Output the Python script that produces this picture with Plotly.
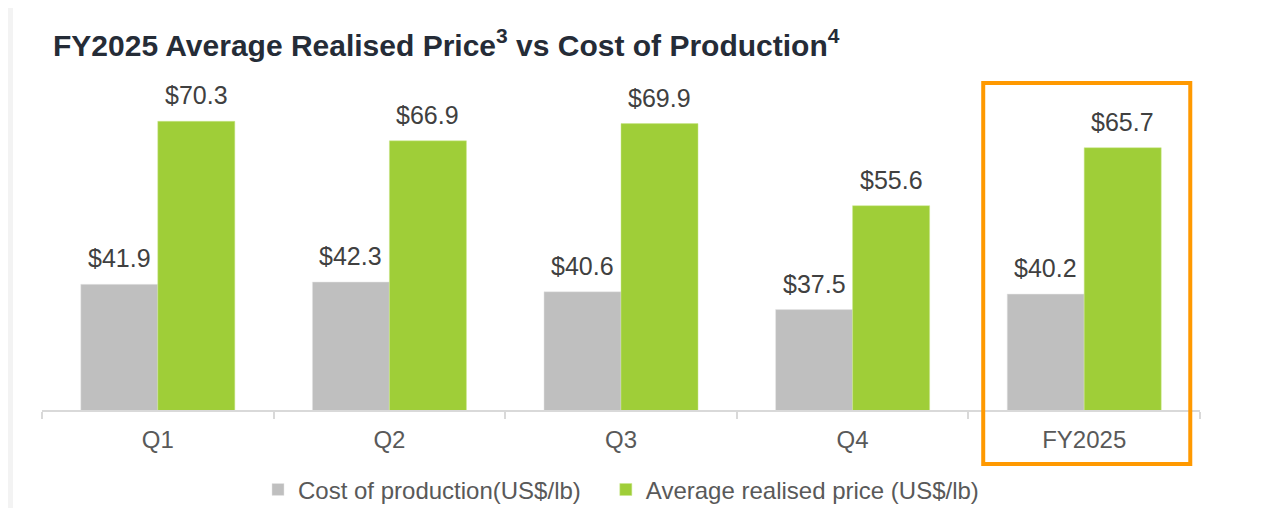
import plotly.graph_objects as go

categories = ["Q1", "Q2", "Q3", "Q4", "FY2025"]
cost_of_production = [41.9, 42.3, 40.6, 37.5, 40.2]
realised_price = [70.3, 66.9, 69.9, 55.6, 65.7]
series_names = ["Cost of production(US$/lb)", "Average realised price (US$/lb)"]

GREY = "#bfbfbf"
GREEN = "#9fce38"
LABEL_COLOR = "#404040"
AXIS_TEXT = "#595959"
FONT = "Liberation Sans, Arial, sans-serif"

fig = go.Figure()
# a few non-breaking spaces widen the gap between the two legend entries
fig.add_trace(go.Bar(x=categories, y=cost_of_production, name=series_names[0] + "&nbsp;" * 3,
                     marker=dict(color=GREY, line=dict(color="#e6e6e6", width=0.5))))
fig.add_trace(go.Bar(x=categories, y=realised_price, name=series_names[1],
                     marker=dict(color=GREEN, line=dict(color="#c8e68a", width=0.5))))

# value labels above each bar
for series, shift in [(cost_of_production, -38.5), (realised_price, 38.5)]:
    for cat, val in zip(categories, series):
        fig.add_annotation(x=cat, y=val, text="$%.1f" % val, showarrow=False,
                           xshift=shift, yshift=10, yanchor="bottom",
                           font=dict(family=FONT, size=25, color=LABEL_COLOR))

# page body has an 8px margin, so everything is pulled up/left by 8
fig.update_layout(
    width=1276, height=508,
    margin=dict(l=34, r=84, t=72, b=106, autoexpand=False),
    paper_bgcolor="#f3f3f3",
    plot_bgcolor="rgba(0,0,0,0)",
    barmode="group", bargap=0.335, bargroupgap=0,
    title=dict(text="FY2025 Average Realised Price<sup>3</sup> vs Cost of Production<sup>4</sup>",
               x=45 / 1276, xanchor="left", xref="container",
               y=1 - 37 / 508, yanchor="middle", yref="container",
               font=dict(family=FONT, size=30, color="#252c37", weight="bold")),
    xaxis=dict(showline=True, linecolor="#d9d9d9", linewidth=2,
               ticks="outside", tickson="boundaries", ticklen=7, tickcolor="#d9d9d9",
               tickwidth=2, ticklabelstandoff=7,
               tickfont=dict(family=FONT, size=24, color=AXIS_TEXT), showgrid=False),
    yaxis=dict(range=[20, 77.5], visible=False, showgrid=False),
    showlegend=True,
    legend=dict(orientation="h", x=0.5, xanchor="center", y=-0.242, yanchor="middle",
                font=dict(family=FONT, size=24, color=AXIS_TEXT), itemwidth=30,
                bgcolor="rgba(0,0,0,0)"),
    shapes=[
        # white card on the grey page
        dict(type="rect", xref="paper", yref="paper", x0=-0.025, x1=1.0604, y0=-0.35, y1=1.2212,
             fillcolor="white", line=dict(width=0), layer="below"),
        # highlight box round FY2025
        dict(type="rect", xref="x", yref="paper", x0=3.564, x1=4.458, y0=-0.1636, y1=0.991,
             line=dict(color="#ff9900", width=4), fillcolor="rgba(0,0,0,0)"),
    ],
)

fig.write_html("out.html")
